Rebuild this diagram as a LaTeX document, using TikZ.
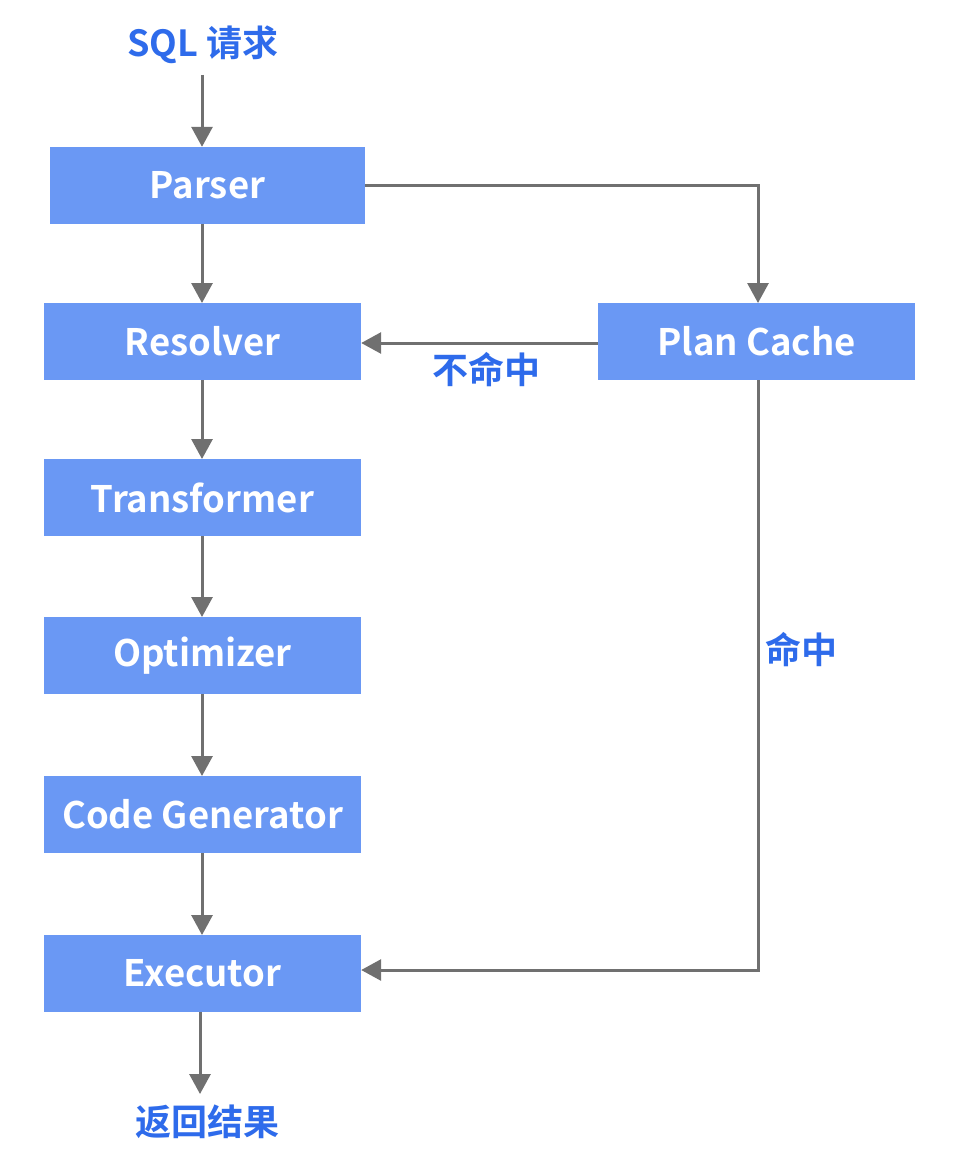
\documentclass[tikz,border=0pt]{standalone}
\usepackage{fontspec}
\setmainfont{Noto Sans CJK SC}[BoldFont={* Bold}]
\usetikzlibrary{arrows.meta}
\definecolor{boxblue}{HTML}{6A98F4}
\definecolor{txtblue}{HTML}{2E6BEB}
\definecolor{linegray}{HTML}{707070}
\tikzset{
  stage/.style={fill=boxblue, draw=none, minimum width=317pt, minimum height=77pt, inner sep=0pt,
    text=white, font=\fontsize{36.5}{40}\selectfont\bfseries},
  lbl/.style={text=txtblue, font=\fontsize{36}{40}\selectfont\bfseries, inner sep=0pt},
  conn/.style={draw=linegray, line width=3pt, -{Triangle[length=20pt,width=21pt]}},
}
\begin{document}
\begin{tikzpicture}[x=1pt,y=-1pt]
\useasboundingbox (0,0) rectangle (956,1166);
\fill[white] (0,0) rectangle (956,1166);
\node[lbl] (sql) at (203,45) {SQL 请求};
\node[stage, minimum width=315pt] (parser) at (207.5,185.5) {Parser};
\node[stage] (resolver) at (202.5,341.5) {Resolver};
\node[stage] (cache) at (756.5,341.5) {Plan Cache};
\node[stage] (transformer) at (202.5,497.5) {Transformer};
\node[stage] (optimizer) at (202.5,655.5) {Optimizer};
\node[stage] (codegen) at (202.5,814.5) {Code Generator};
\node[stage] (executor) at (202.5,973.5) {Executor};
\node[lbl] (result) at (207,1122) {返回结果};
\node[lbl] (miss) at (486,370) {不命中};
\node[lbl] (hit) at (801,650) {命中};
\coordinate (sqlbot) at (202,75);
\coordinate (resbot) at (200,1094);
\draw[conn] (sqlbot) -- (sqlbot |- parser.north);
\draw[conn] (202,224) -- (202,303);
\draw[conn] (parser.east |- 0,186) -| (758,303);
\draw[conn] (cache.west |- 0,343) -- (resolver.east |- 0,343);
\draw[conn] (202,380) -- (202,459);
\draw[conn] (202,536) -- (202,617);
\draw[conn] (202,694) -- (202,776);
\draw[conn] (202,853) -- (202,935);
\draw[conn] (758,380) |- (executor.east |- 0,970);
\draw[conn] (200,1012) -- (resbot);
\end{tikzpicture}
\end{document}
